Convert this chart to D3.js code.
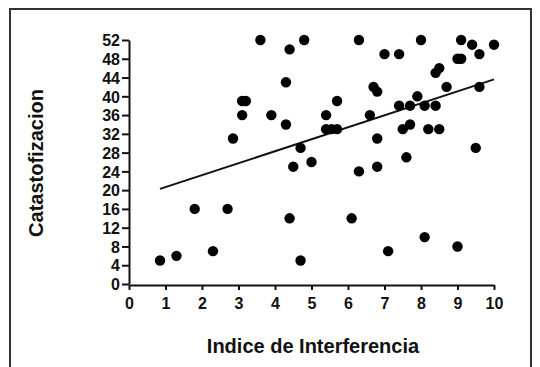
<!DOCTYPE html>
<html>
<head>
<meta charset="utf-8">
<script src="https://cdn.jsdelivr.net/npm/d3@7"></script>
<style>
  body { margin: 0; background: #fff; }
  svg { display: block; font-family: "Liberation Sans", Arial, sans-serif; }
</style>
</head>
<body>
<div id="chart"></div>
<script>
// Indice de Interferencia (x) vs Catastofizacion (y)
const xValues = [0.85, 1.3, 1.8, 2.3, 2.7, 2.85, 3.1, 3.1, 3.2, 3.6,
  3.9, 4.3, 4.3, 4.4, 4.4, 4.5, 4.7, 4.7, 4.8, 5.0,
  5.4, 5.4, 5.55, 5.7, 5.7, 6.1, 6.3, 6.3, 6.6, 6.7,
  6.8, 6.8, 6.8, 7.0, 7.1, 7.4, 7.4, 7.5, 7.6, 7.7,
  7.7, 7.9, 8.0, 8.1, 8.1, 8.2, 8.4, 8.4, 8.5, 8.5,
  8.7, 9.0, 9.1, 9.0, 9.1, 9.4, 9.6, 9.6, 9.5, 10.0];
const yValues = [5, 6, 16, 7, 16, 31, 36, 39, 39, 52,
  36, 43, 34, 50, 14, 25, 29, 5, 52, 26,
  36, 33, 33, 33, 39, 14, 52, 24, 36, 42,
  41, 31, 25, 49, 7, 49, 38, 33, 27, 34,
  38, 40, 52, 38, 10, 33, 38, 45, 46, 33,
  42, 48, 48, 8, 52, 51, 49, 42, 29, 51];

// fitted line
const fitX = [0.85, 10];
const fitIntercept = 18.1;
const fitSlope = 2.55;

const xTicks = d3.range(0, 11, 1);
const yTicks = d3.range(0, 53, 4);

const width = 540, height = 367;
const svg = d3.select("#chart").append("svg")
  .attr("width", width)
  .attr("height", height);

// frame
svg.append("rect")
  .attr("x", 10).attr("y", 9)
  .attr("width", 521).attr("height", 380)
  .attr("fill", "none")
  .attr("stroke", "#333")
  .attr("stroke-width", 2);

const xScale = d3.scaleLinear().domain([0, 10]).range([129, 494]);
const yScale = d3.scaleLinear().domain([0, 52]).range([284, 40]);

const yAxis = svg.append("g")
  .attr("transform", "translate(129,0)")
  .call(d3.axisLeft(yScale).tickValues(yTicks).tickSize(7).tickSizeOuter(0).tickPadding(2));

const xAxis = svg.append("g")
  .attr("transform", "translate(0,285)")
  .call(d3.axisBottom(xScale).tickValues(xTicks).tickSize(5).tickSizeOuter(0).tickPadding(8));

[xAxis, yAxis].forEach(g => {
  g.selectAll("path, line").attr("stroke", "#111").attr("stroke-width", 2);
  g.selectAll("text")
    .attr("fill", "#111")
    .style("font-size", "16px")
    .style("font-weight", "bold")
    .style("font-family", "'Liberation Sans', Arial, sans-serif");
});
yAxis.selectAll("text").attr("dy", "0.36em");

// regression line
svg.append("line")
  .attr("x1", xScale(fitX[0]))
  .attr("y1", yScale(fitIntercept + fitSlope * fitX[0]))
  .attr("x2", xScale(fitX[1]))
  .attr("y2", yScale(fitIntercept + fitSlope * fitX[1]))
  .attr("stroke", "#111")
  .attr("stroke-width", 2);

// points
svg.append("g")
  .selectAll("circle")
  .data(xValues.map((x, i) => ({ x, y: yValues[i] })))
  .join("circle")
  .attr("cx", d => xScale(d.x))
  .attr("cy", d => yScale(d.y))
  .attr("r", 5.2)
  .attr("fill", "#000");

// axis titles
svg.append("text")
  .text("Indice de Interferencia")
  .attr("x", 313)
  .attr("y", 353)
  .attr("text-anchor", "middle")
  .attr("fill", "#111")
  .style("font-size", "20px")
  .style("font-weight", "bold");

svg.append("text")
  .text("Catastofizacion")
  .attr("transform", "translate(43,163) rotate(-90)")
  .attr("text-anchor", "middle")
  .attr("fill", "#111")
  .style("font-size", "20px")
  .style("font-weight", "bold");
</script>
</body>
</html>
